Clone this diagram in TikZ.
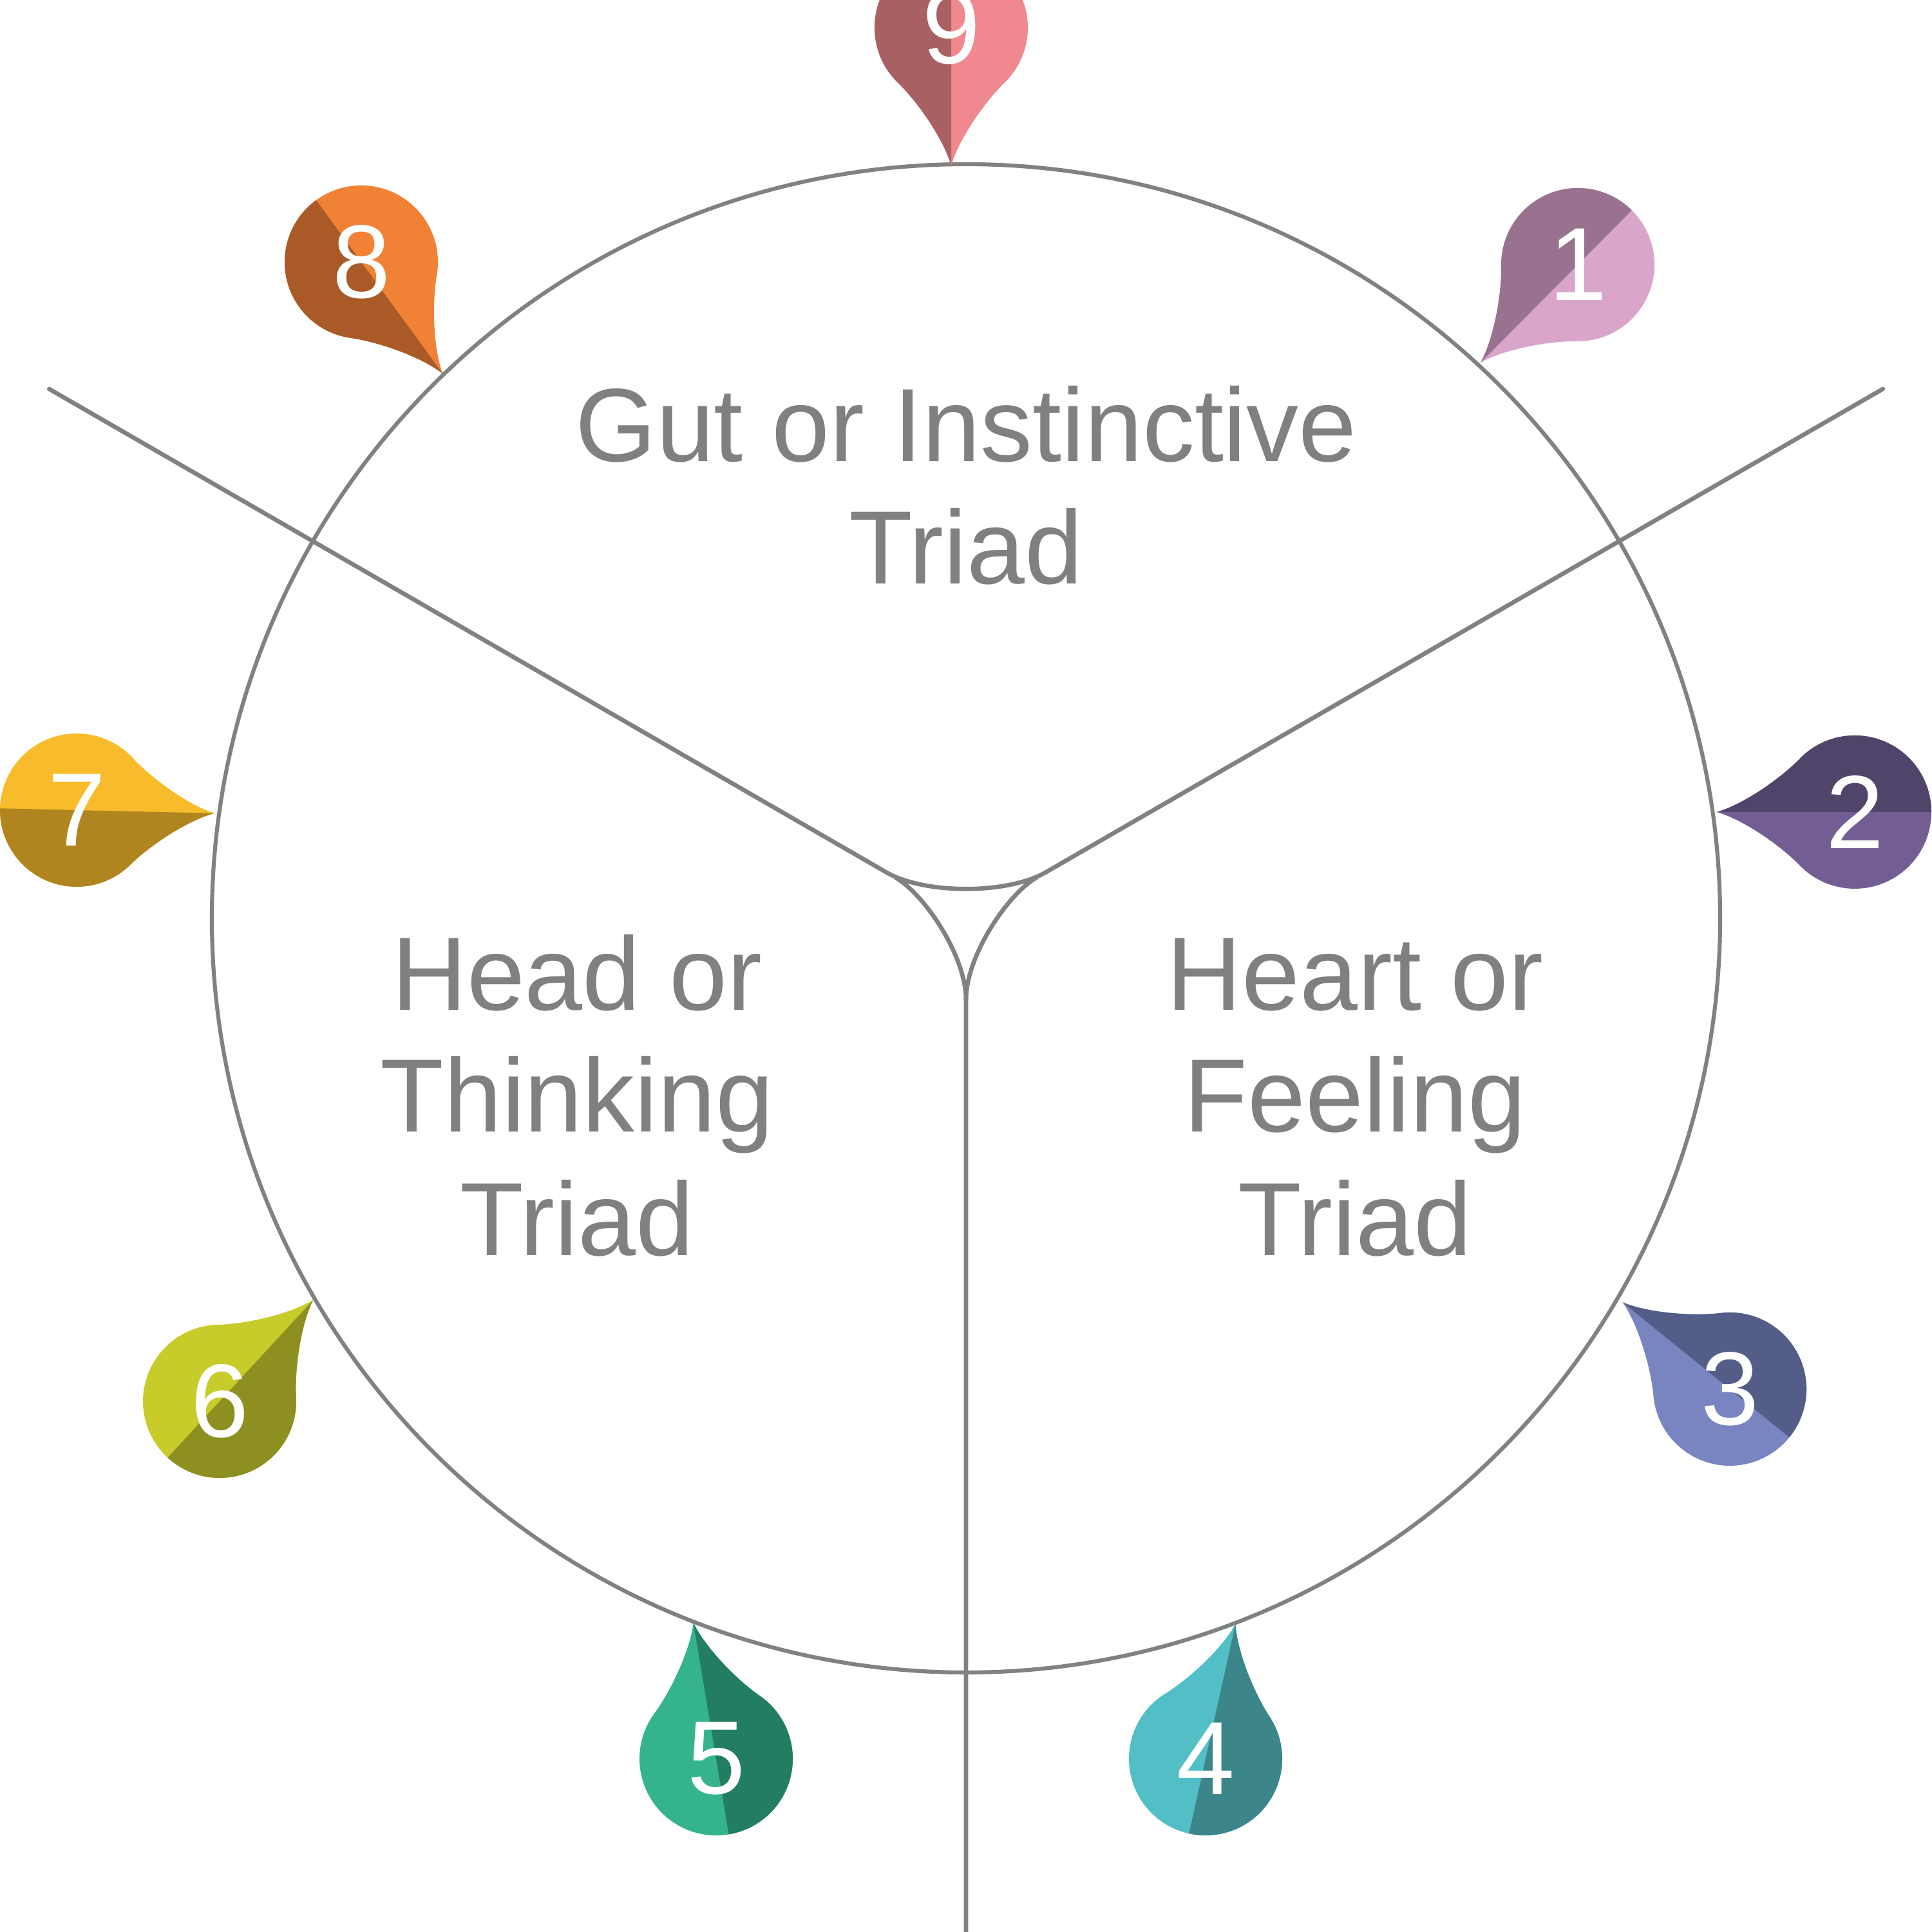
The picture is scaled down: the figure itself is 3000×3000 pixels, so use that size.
\documentclass[tikz,border=0pt]{standalone}
\usepackage{fontspec}
\setmainfont{Liberation Sans}
\definecolor{linegray}{RGB}{128,130,129}
\definecolor{textgray}{RGB}{128,128,128}
\definecolor{ninedark}{HTML}{A86062}\definecolor{ninelight}{HTML}{F0888F}
\definecolor{eightdark}{HTML}{A95A26}\definecolor{eightlight}{HTML}{F08135}
\definecolor{onedark}{HTML}{98728E}\definecolor{onelight}{HTML}{DAA5CB}
\definecolor{twodark}{HTML}{51446A}\definecolor{twolight}{HTML}{735E94}
\definecolor{threedark}{HTML}{535D88}\definecolor{threelight}{HTML}{7985C1}
\definecolor{fourdark}{HTML}{3C868A}\definecolor{fourlight}{HTML}{52BFC7}
\definecolor{fivedark}{HTML}{237D62}\definecolor{fivelight}{HTML}{35B38D}
\definecolor{sixdark}{HTML}{8D9021}\definecolor{sixlight}{HTML}{C8CC2A}
\definecolor{sevendark}{HTML}{B08520}\definecolor{sevenlight}{HTML}{F8BB2C}
\tikzset{
  arm/.style={draw=linegray,line width=1.9pt,line cap=round,line join=round},
  ring/.style={draw=linegray,line width=1.75pt},
  triadtext/.style={text=textgray,font=\fontsize{46}{54}\selectfont,inner sep=0pt,anchor=base},
  digit/.style={text=white,font=\fontsize{46}{54}\selectfont,inner sep=0pt}
}
% #1 cx, #2 cy, #3 rotation, #4 dark, #5 light, #6 digit, #7 name
\newcommand\droppin[7]{%
  \begin{scope}[shift={(#1,#2)},rotate=#3,scale=119]
    \fill[#5] (0,-1.8) .. controls (0.1,-1.45) and (0.443,-0.962) .. (-46:1)
      arc[start angle=-46,end angle=226,radius=1]
      .. controls (-0.443,-0.962) and (-0.1,-1.45) .. (0,-1.8) -- cycle;
    \fill[#4] (0,-1.8) .. controls (-0.1,-1.45) and (-0.443,-0.962) .. (226:1)
      arc[start angle=226,end angle=90,radius=1] -- cycle;
  \end{scope}
  \node[digit] (#7) at (#1,#2) {#6};
}
\begin{document}
\begin{tikzpicture}[x=0.01cm,y=0.01cm]
\useasboundingbox (0,0) rectangle (3000,3000);
\fill[white] (0,0) rectangle (3000,3000);
% geometry
\coordinate (O) at (1500,1574);
\coordinate (UA) at (1376,1645.6);   % start of upper fillet, left
\coordinate (UB) at (1624,1645.6);   % start of upper fillet, right
\coordinate (LA) at (1391,1637);     % branch of lower-left curve
\coordinate (LB) at (1609,1637);     % branch of lower-right curve
\coordinate (C) at (1500,1447);      % cusp joining the stem
\coordinate (L) at (76.3,2396);
\coordinate (R) at (2923.7,2396);
\coordinate (D) at (1500,-10);
% ring
\draw[ring] (O) circle[radius=1171];
% arms with curved junction
\draw[arm] (L) -- (UA) .. controls (1435.8,1611) and (1564.2,1611) .. (UB) -- (R);
\draw[arm] (LA) .. controls (1434.3,1612) and (1500,1517) .. (C) -- (D);
\draw[arm] (LB) .. controls (1565.7,1612) and (1500,1517) .. (C);
% texts
\node[triadtext] (gut1) at (1500,2283) {Gut or Instinctive};
\node[triadtext] (gut2) at (1500,2093) {Triad};
\node[triadtext] (head1) at (896,1431) {Head or};
\node[triadtext] (head2) at (896,1242) {Thinking};
\node[triadtext] (head3) at (896,1050) {Triad};
\node[triadtext] (heart1) at (2104,1431) {Heart or};
\node[triadtext] (heart2) at (2104,1242) {Feeling};
\node[triadtext] (heart3) at (2104,1050) {Triad};
% pins
\droppin{1477}{2957}{0}{ninedark}{ninelight}{9}{p9}
\droppin{561}{2593}{36.1}{eightdark}{eightlight}{8}{p8}
\droppin{2450}{2589}{315.2}{onedark}{onelight}{1}{p1}
\droppin{2880}{1739}{270}{twodark}{twolight}{2}{p2}
\droppin{2686}{843}{231}{threedark}{threelight}{3}{p3}
\droppin{1872}{269}{167.5}{fourdark}{fourlight}{4}{p4}
\droppin{1112}{269}{189.5}{fivedark}{fivelight}{5}{p5}
\droppin{341}{824}{137.3}{sixdark}{sixlight}{6}{p6}
\droppin{119}{1742}{88.7}{sevendark}{sevenlight}{7}{p7}
\end{tikzpicture}
\end{document}
